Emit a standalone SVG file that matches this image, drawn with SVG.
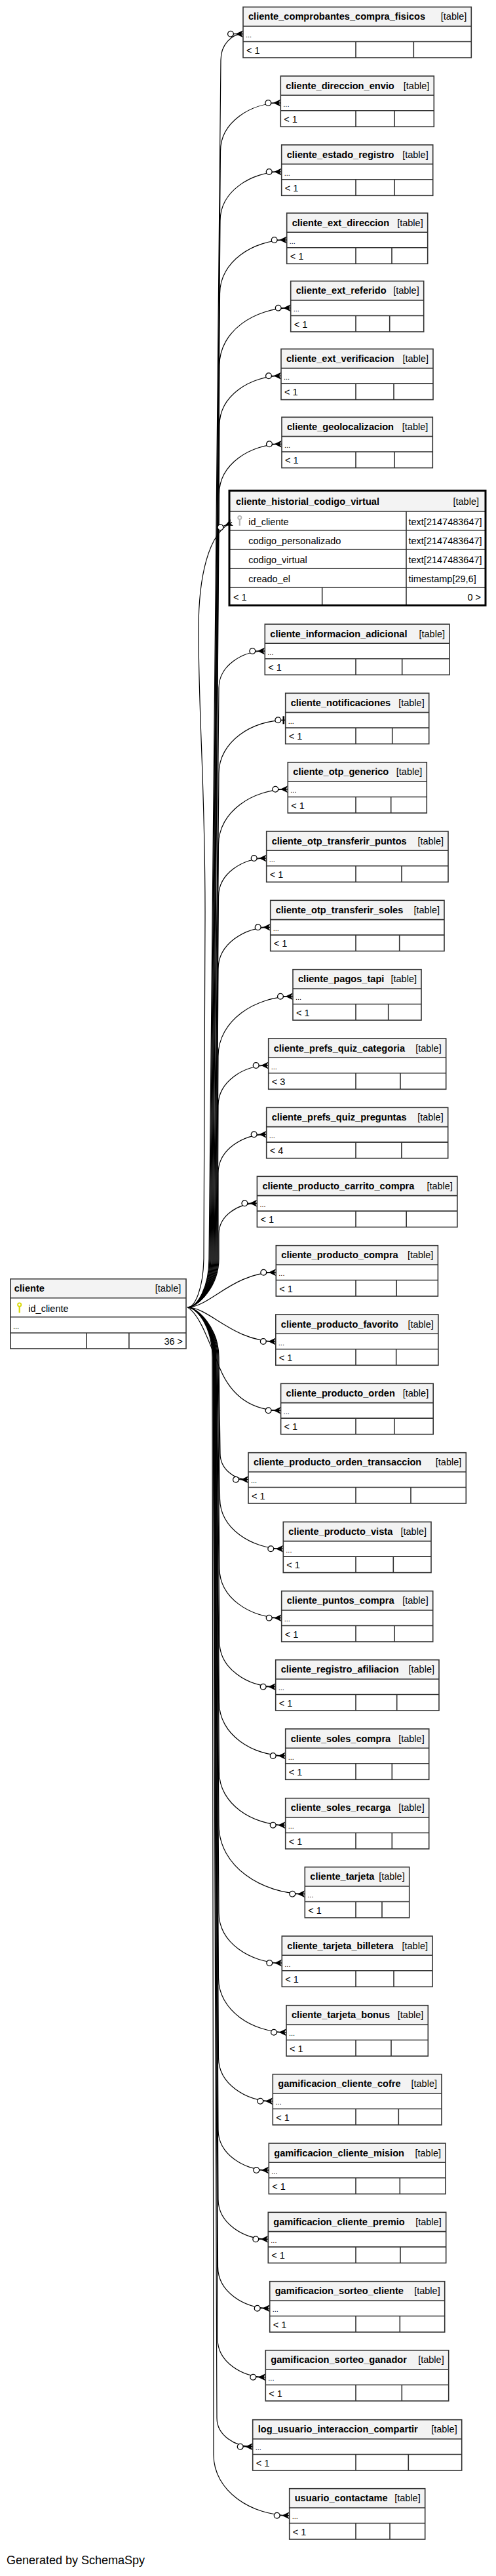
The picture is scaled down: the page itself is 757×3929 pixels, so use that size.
<svg xmlns="http://www.w3.org/2000/svg" width="757" height="3929" viewBox="0 0 757 3929">
<style>
.hd{fill:#f3f3f3}
.bx{fill:none;stroke:#333;stroke-width:1.6}
.ln{fill:none;stroke:#333;stroke-width:1.6}
.t{font-family:"Liberation Sans",Arial,Helvetica,sans-serif;font-size:14.5px;fill:#000}
.b{font-weight:bold;font-size:14.6px}
.e{text-anchor:end}
.s{font-size:11px}
.c{fill:none;stroke:#000;stroke-width:1.2}
.cm{marker-end:url(#mc)}
.co{marker-end:url(#mo)}
</style>
<defs>
<marker id="mc" markerUnits="userSpaceOnUse" markerWidth="28" markerHeight="16" viewBox="-25 -8 28 16" refX="0" refY="0" orient="auto" overflow="visible">
<path d="M-14.6,0H0" stroke="#000" stroke-width="1.2"/>
<path d="M0,-5.5L-11.5,0L0,5.5L-3,0Z" fill="#000"/>
<circle cx="-19" cy="0" r="4.4" fill="#fff" stroke="#000" stroke-width="1.3"/>
</marker>
<marker id="mo" markerUnits="userSpaceOnUse" markerWidth="28" markerHeight="16" viewBox="-25 -8 28 16" refX="0" refY="0" orient="auto" overflow="visible">
<path d="M-7,0H0" stroke="#000" stroke-width="1.2"/>
<rect x="-4.2" y="-6" width="2.6" height="12" fill="#000"/>
<circle cx="-11.4" cy="0" r="4.4" fill="#fff" stroke="#000" stroke-width="1.3"/>
</marker>
</defs>
<rect width="757" height="3929" fill="#fff"/>

<g id="connectors">
<path class="c cm" d="M286,1994C302,1994 319,1962 319,1920L337,91.7C337,67.7 354,51.7 371,51.7"/>
<path class="c cm" d="M286,1994C302,1994 320,1962 320,1920L336.5,230.4C336.5,186.4 382.4,157 428.3,157"/>
<path class="c cm" d="M286,1994C302,1994 321,1962 321,1920L336,337C336,292 382.9,262 429.7,262"/>
<path class="c cm" d="M286,1994C302,1994 322,1962 322,1920L335.5,447.8C335.5,398.7 386.6,366 437.7,366"/>
<path class="c cm" d="M286,1994C302,1994 323,1962 323,1920L335,556.7C335,504.5 389.4,469.7 443.7,469.7"/>
<path class="c cm" d="M286,1994C302,1994 324,1962 324,1920L335,648.5C335,603.4 382,573.3 429,573.3"/>
<path class="c cm" d="M286,1994C302,1994 325,1962 325,1920L334.5,753.7C334.5,707.9 382.3,677.3 430,677.3"/>
<path class="c cm" d="M286,1994C298,1994 310,1965 311,1920L313,1400C313.5,1200 303,1100 303,960C303,880 318,812 354,797"/>
<path class="c cm" d="M286,1994C302,1994 326,1962 326,1920L334,1049.2C334,1015.5 369.2,993 404.3,993"/>
<path class="c co" d="M286,1994C302,1994 327,1962 327,1920L334,1179.7C334,1130.9 384.9,1098.3 435.7,1098.3"/>
<path class="c cm" d="M286,1994C302,1994 328,1962 328,1920L333.5,1288.3C333.5,1237.5 386.4,1203.7 439.3,1203.7"/>
<path class="c cm" d="M286,1994C302,1994 329,1962 329,1920L333.5,1367.6C333.5,1332.4 370.1,1309 406.7,1309"/>
<path class="c cm" d="M286,1994C302,1994 330,1962 330,1920L333,1478.1C333,1439.8 372.9,1414.3 412.7,1414.3"/>
<path class="c cm" d="M286,1994C302,1994 331,1962 331,1920L333,1610.9C333,1556.2 390,1519.7 447,1519.7"/>
<path class="c cm" d="M286,1994C302,1994 332,1962 332,1920L333,1686.4C333,1649.6 371.4,1625 409.7,1625"/>
<path class="c cm" d="M286,1994C302,1994 333,1962 333,1920L333,1789.3C333,1753.9 369.9,1730.3 406.7,1730.3"/>
<path class="c cm" d="M286,1994C302,1994 334,1962 334,1920L334,1882C334,1854 363.2,1835.3 392.4,1835.3"/>
<path class="c cm" d="M286,1994C320,1994 355,1940.7 421.3,1940.7"/>
<path class="c cm" d="M286,1994C320,1994 355,2046 420.8,2046"/>
<path class="c cm" d="M286,1994C305,2004 320,2050 336,2088C352,2126 380,2151.3 428.6,2151.3"/>
<path class="c cm" d="M286,1994C302,1994 334,2026 334,2070L336,2216.7C336,2240.7 357.5,2256.7 379,2256.7"/>
<path class="c cm" d="M286,1994C302,1994 333,2026 333,2070L335.5,2284.9C335.5,2331.3 383.9,2362.3 432.3,2362.3"/>
<path class="c cm" d="M286,1994C302,1994 332,2026 332,2070L335,2391.9C335,2437.4 382.4,2467.7 429.7,2467.7"/>
<path class="c cm" d="M286,1994C302,1994 331,2026 331,2070L335,2504.1C335,2545.3 377.9,2572.7 420.7,2572.7"/>
<path class="c cm" d="M286,1994C302,1994 330,2026 330,2070L334.5,2597C334.5,2645.6 385.1,2678 435.7,2678"/>
<path class="c cm" d="M286,1994C302,1994 329.5,2026 329.5,2070L334.5,2702.7C334.5,2751.3 385.1,2783.7 435.7,2783.7"/>
<path class="c cm" d="M286,1994C302,1994 329,2026 329,2070L334,2783.7C334,2846.7 399.7,2888.7 465.3,2888.7"/>
<path class="c cm" d="M286,1994C302,1994 328.5,2026 328.5,2070L334,2917C334,2963.2 382.2,2994 430.3,2994"/>
<path class="c cm" d="M286,1994C302,1994 328,2026 328,2070L333.5,3016.9C333.5,3066.6 385.3,3099.7 437,3099.7"/>
<path class="c cm" d="M286,1994C302,1994 327.5,2026 327.5,2070L333.5,3138.5C333.5,3178.2 374.9,3204.7 416.3,3204.7"/>
<path class="c cm" d="M286,1994C302,1994 327,2026 327,2070L333,3248.2C333,3285.3 371.7,3310 410.3,3310"/>
<path class="c cm" d="M286,1994C302,1994 326.5,2026 326.5,2070L333,3354.3C333,3390.9 371.2,3415.3 409.3,3415.3"/>
<path class="c cm" d="M286,1994C302,1994 326,2026 326,2070L332.5,3457.3C332.5,3495.3 372.1,3520.7 411.7,3520.7"/>
<path class="c cm" d="M286,1994C302,1994 325.5,2026 325.5,2070L332,3567.1C332,3602.3 368.7,3625.7 405.3,3625.7"/>
<path class="c cm" d="M286,1994C302,1994 325,2026 325,2070L331,3687.9C331,3714.2 358.4,3731.7 385.7,3731.7"/>
<path class="c cm" d="M286,1994C302,1994 324,2026 324,2070L326,3744.1C326,3799.7 383.9,3836.7 441.7,3836.7"/>
</g>

<g id="cliente">
<rect class="hd" x="15.9" y="1950.7" width="268.1" height="29"/>
<path class="ln" d="M15.9,1979.7H284M15.9,2008.7H284M15.9,2033H284M131.8,2033V2057M196.9,2033V2057"/>
<rect class="bx" x="15.9" y="1950.7" width="268.1" height="106.3"/>
<text class="t b" x="21.7" y="1970">cliente</text>
<text class="t e" x="276.3" y="1970">[table]</text>
<circle cx="29.7" cy="1990" r="2.6" fill="none" stroke="#d8d800" stroke-width="1.8"/>
<path d="M29.7,1992.5V2002.3" stroke="#d8d800" stroke-width="2.2"/>
<text class="t" x="43.3" y="2000.5">id_cliente</text>
<text class="t s" x="20" y="2027">...</text>
<text class="t e" x="279" y="2051">36 &gt;</text>
</g>

<g id="cliente_historial_codigo_virtual">
<rect class="hd" x="350" y="748.3" width="391" height="31.7"/>
<path class="ln" d="M350,780H741M350,808.7H741M350,838H741M350,867.3H741M350,896H741M620,780V923.3M491.7,896V923.3"/>
<rect x="350" y="748.3" width="391" height="175" fill="none" stroke="#000" stroke-width="3"/>
<text class="t b" x="360" y="769.5">cliente_historial_codigo_virtual</text>
<text class="t e" x="731" y="769.5">[table]</text>
<circle cx="365.8" cy="789.5" r="2.6" fill="none" stroke="#b4b4b4" stroke-width="1.8"/>
<path d="M365.8,792V801.7" stroke="#b4b4b4" stroke-width="2.2"/>
<text class="t" x="379.3" y="801">id_cliente</text>
<text class="t" x="379.3" y="829.8">codigo_personalizado</text>
<text class="t" x="379.3" y="859.2">codigo_virtual</text>
<text class="t" x="379.3" y="888.4">creado_el</text>
<text class="t" x="623.5" y="801">text[2147483647]</text>
<text class="t" x="623.5" y="829.8">text[2147483647]</text>
<text class="t" x="623.5" y="859.2">text[2147483647]</text>
<text class="t" x="623.5" y="888.4">timestamp[29,6]</text>
<text class="t" x="356" y="915.5">&lt; 1</text>
<text class="t e" x="734" y="915.5">0 &gt;</text>
</g>

<g id="cliente_comprobantes_compra_fisicos">
<rect class="hd" x="371" y="10.7" width="348.3" height="29.3"/>
<path class="ln" d="M371,40H719.3M371,63.5H719.3M543,63.5V88M631.3,63.5V88"/>
<rect class="bx" x="371" y="10.7" width="348.3" height="77.3"/>
<text class="t b" x="379" y="30.2">cliente_comprobantes_compra_fisicos</text>
<text class="t e" x="712.3" y="30.2">[table]</text>
<text class="t s" x="375" y="57.2">...</text>
<text class="t" x="376" y="81.7">&lt; 1</text>
</g>

<g id="cliente_direccion_envio">
<rect class="hd" x="428.3" y="116" width="234" height="29.3"/>
<path class="ln" d="M428.3,145.3H662.3M428.3,168.8H662.3M543,168.8V193.3M602,168.8V193.3"/>
<rect class="bx" x="428.3" y="116" width="234" height="77.3"/>
<text class="t b" x="436.3" y="135.5">cliente_direccion_envio</text>
<text class="t e" x="655.3" y="135.5">[table]</text>
<text class="t s" x="432.3" y="162.5">...</text>
<text class="t" x="433.3" y="187">&lt; 1</text>
</g>

<g id="cliente_estado_registro">
<rect class="hd" x="429.7" y="221" width="231" height="29.3"/>
<path class="ln" d="M429.7,250.3H660.7M429.7,273.8H660.7M543,273.8V298.3M602,273.8V298.3"/>
<rect class="bx" x="429.7" y="221" width="231" height="77.3"/>
<text class="t b" x="437.7" y="240.5">cliente_estado_registro</text>
<text class="t e" x="653.7" y="240.5">[table]</text>
<text class="t s" x="433.7" y="267.5">...</text>
<text class="t" x="434.7" y="292">&lt; 1</text>
</g>

<g id="cliente_ext_direccion">
<rect class="hd" x="437.7" y="325" width="215" height="29.3"/>
<path class="ln" d="M437.7,354.3H652.7M437.7,377.8H652.7M543,377.8V402.3M598,377.8V402.3"/>
<rect class="bx" x="437.7" y="325" width="215" height="77.3"/>
<text class="t b" x="445.7" y="344.5">cliente_ext_direccion</text>
<text class="t e" x="645.7" y="344.5">[table]</text>
<text class="t s" x="441.7" y="371.5">...</text>
<text class="t" x="442.7" y="396">&lt; 1</text>
</g>

<g id="cliente_ext_referido">
<rect class="hd" x="443.7" y="428.7" width="203" height="29.3"/>
<path class="ln" d="M443.7,458H646.7M443.7,481.5H646.7M543,481.5V506M594.7,481.5V506"/>
<rect class="bx" x="443.7" y="428.7" width="203" height="77.3"/>
<text class="t b" x="451.7" y="448.2">cliente_ext_referido</text>
<text class="t e" x="639.7" y="448.2">[table]</text>
<text class="t s" x="447.7" y="475.2">...</text>
<text class="t" x="448.7" y="499.7">&lt; 1</text>
</g>

<g id="cliente_ext_verificacion">
<rect class="hd" x="429" y="532.3" width="232" height="29.3"/>
<path class="ln" d="M429,561.6H661M429,585.1H661M543,585.1V609.6M601,585.1V609.6"/>
<rect class="bx" x="429" y="532.3" width="232" height="77.3"/>
<text class="t b" x="437" y="551.8">cliente_ext_verificacion</text>
<text class="t e" x="654" y="551.8">[table]</text>
<text class="t s" x="433" y="578.8">...</text>
<text class="t" x="434" y="603.3">&lt; 1</text>
</g>

<g id="cliente_geolocalizacion">
<rect class="hd" x="430" y="636.3" width="230.3" height="29.3"/>
<path class="ln" d="M430,665.6H660.3M430,689.1H660.3M543,689.1V713.6M602,689.1V713.6"/>
<rect class="bx" x="430" y="636.3" width="230.3" height="77.3"/>
<text class="t b" x="438" y="655.8">cliente_geolocalizacion</text>
<text class="t e" x="653.3" y="655.8">[table]</text>
<text class="t s" x="434" y="682.8">...</text>
<text class="t" x="435" y="707.3">&lt; 1</text>
</g>

<g id="cliente_informacion_adicional">
<rect class="hd" x="404.3" y="952" width="281.7" height="29.3"/>
<path class="ln" d="M404.3,981.3H686M404.3,1004.8H686M543,1004.8V1029.3M613.7,1004.8V1029.3"/>
<rect class="bx" x="404.3" y="952" width="281.7" height="77.3"/>
<text class="t b" x="412.3" y="971.5">cliente_informacion_adicional</text>
<text class="t e" x="679" y="971.5">[table]</text>
<text class="t s" x="408.3" y="998.5">...</text>
<text class="t" x="409.3" y="1023">&lt; 1</text>
</g>

<g id="cliente_notificaciones">
<rect class="hd" x="435.7" y="1057.3" width="219" height="29.3"/>
<path class="ln" d="M435.7,1086.6H654.7M435.7,1110.1H654.7M543,1110.1V1134.6M598.7,1110.1V1134.6"/>
<rect class="bx" x="435.7" y="1057.3" width="219" height="77.3"/>
<text class="t b" x="443.7" y="1076.8">cliente_notificaciones</text>
<text class="t e" x="647.7" y="1076.8">[table]</text>
<text class="t s" x="439.7" y="1103.8">...</text>
<text class="t" x="440.7" y="1128.3">&lt; 1</text>
</g>

<g id="cliente_otp_generico">
<rect class="hd" x="439.3" y="1162.7" width="212" height="29.3"/>
<path class="ln" d="M439.3,1192H651.3M439.3,1215.5H651.3M543,1215.5V1240M596.7,1215.5V1240"/>
<rect class="bx" x="439.3" y="1162.7" width="212" height="77.3"/>
<text class="t b" x="447.3" y="1182.2">cliente_otp_generico</text>
<text class="t e" x="644.3" y="1182.2">[table]</text>
<text class="t s" x="443.3" y="1209.2">...</text>
<text class="t" x="444.3" y="1233.7">&lt; 1</text>
</g>

<g id="cliente_otp_transferir_puntos">
<rect class="hd" x="406.7" y="1268" width="277.3" height="29.3"/>
<path class="ln" d="M406.7,1297.3H684M406.7,1320.8H684M543,1320.8V1345.3M613,1320.8V1345.3"/>
<rect class="bx" x="406.7" y="1268" width="277.3" height="77.3"/>
<text class="t b" x="414.7" y="1287.5">cliente_otp_transferir_puntos</text>
<text class="t e" x="677" y="1287.5">[table]</text>
<text class="t s" x="410.7" y="1314.5">...</text>
<text class="t" x="411.7" y="1339">&lt; 1</text>
</g>

<g id="cliente_otp_transferir_soles">
<rect class="hd" x="412.7" y="1373.3" width="265.3" height="29.3"/>
<path class="ln" d="M412.7,1402.6H678M412.7,1426.1H678M543,1426.1V1450.6M609.7,1426.1V1450.6"/>
<rect class="bx" x="412.7" y="1373.3" width="265.3" height="77.3"/>
<text class="t b" x="420.7" y="1392.8">cliente_otp_transferir_soles</text>
<text class="t e" x="671" y="1392.8">[table]</text>
<text class="t s" x="416.7" y="1419.8">...</text>
<text class="t" x="417.7" y="1444.3">&lt; 1</text>
</g>

<g id="cliente_pagos_tapi">
<rect class="hd" x="447" y="1478.7" width="196" height="29.3"/>
<path class="ln" d="M447,1508H643M447,1531.5H643M543,1531.5V1556M592.7,1531.5V1556"/>
<rect class="bx" x="447" y="1478.7" width="196" height="77.3"/>
<text class="t b" x="455" y="1498.2">cliente_pagos_tapi</text>
<text class="t e" x="636" y="1498.2">[table]</text>
<text class="t s" x="451" y="1525.2">...</text>
<text class="t" x="452" y="1549.7">&lt; 1</text>
</g>

<g id="cliente_prefs_quiz_categoria">
<rect class="hd" x="409.7" y="1584" width="271" height="29.3"/>
<path class="ln" d="M409.7,1613.3H680.7M409.7,1636.8H680.7M543,1636.8V1661.3M611,1636.8V1661.3"/>
<rect class="bx" x="409.7" y="1584" width="271" height="77.3"/>
<text class="t b" x="417.7" y="1603.5">cliente_prefs_quiz_categoria</text>
<text class="t e" x="673.7" y="1603.5">[table]</text>
<text class="t s" x="413.7" y="1630.5">...</text>
<text class="t" x="414.7" y="1655">&lt; 3</text>
</g>

<g id="cliente_prefs_quiz_preguntas">
<rect class="hd" x="406.7" y="1689.3" width="277" height="29.3"/>
<path class="ln" d="M406.7,1718.6H683.7M406.7,1742.1H683.7M543,1742.1V1766.6M612.9,1742.1V1766.6"/>
<rect class="bx" x="406.7" y="1689.3" width="277" height="77.3"/>
<text class="t b" x="414.7" y="1708.8">cliente_prefs_quiz_preguntas</text>
<text class="t e" x="676.7" y="1708.8">[table]</text>
<text class="t s" x="410.7" y="1735.8">...</text>
<text class="t" x="411.7" y="1760.3">&lt; 4</text>
</g>

<g id="cliente_producto_carrito_compra">
<rect class="hd" x="392.4" y="1794.3" width="305.5" height="29.3"/>
<path class="ln" d="M392.4,1823.6H697.9M392.4,1847.1H697.9M543,1847.1V1871.6M620.2,1847.1V1871.6"/>
<rect class="bx" x="392.4" y="1794.3" width="305.5" height="77.3"/>
<text class="t b" x="400.4" y="1813.8">cliente_producto_carrito_compra</text>
<text class="t e" x="690.9" y="1813.8">[table]</text>
<text class="t s" x="396.4" y="1840.8">...</text>
<text class="t" x="397.4" y="1865.3">&lt; 1</text>
</g>

<g id="cliente_producto_compra">
<rect class="hd" x="421.3" y="1899.7" width="247.1" height="29.3"/>
<path class="ln" d="M421.3,1929H668.4M421.3,1952.5H668.4M543,1952.5V1977M605.2,1952.5V1977"/>
<rect class="bx" x="421.3" y="1899.7" width="247.1" height="77.3"/>
<text class="t b" x="429.3" y="1919.2">cliente_producto_compra</text>
<text class="t e" x="661.4" y="1919.2">[table]</text>
<text class="t s" x="425.3" y="1946.2">...</text>
<text class="t" x="426.3" y="1970.7">&lt; 1</text>
</g>

<g id="cliente_producto_favorito">
<rect class="hd" x="420.8" y="2005" width="248.1" height="29.3"/>
<path class="ln" d="M420.8,2034.3H668.9M420.8,2057.8H668.9M543,2057.8V2082.3M604.7,2057.8V2082.3"/>
<rect class="bx" x="420.8" y="2005" width="248.1" height="77.3"/>
<text class="t b" x="428.8" y="2024.5">cliente_producto_favorito</text>
<text class="t e" x="661.9" y="2024.5">[table]</text>
<text class="t s" x="424.8" y="2051.5">...</text>
<text class="t" x="425.8" y="2076">&lt; 1</text>
</g>

<g id="cliente_producto_orden">
<rect class="hd" x="428.6" y="2110.3" width="232.6" height="29.3"/>
<path class="ln" d="M428.6,2139.6H661.2M428.6,2163.1H661.2M543,2163.1V2187.6M601.8,2163.1V2187.6"/>
<rect class="bx" x="428.6" y="2110.3" width="232.6" height="77.3"/>
<text class="t b" x="436.6" y="2129.8">cliente_producto_orden</text>
<text class="t e" x="654.2" y="2129.8">[table]</text>
<text class="t s" x="432.6" y="2156.8">...</text>
<text class="t" x="433.6" y="2181.3">&lt; 1</text>
</g>

<g id="cliente_producto_orden_transaccion">
<rect class="hd" x="379" y="2215.7" width="332.3" height="29.3"/>
<path class="ln" d="M379,2245H711.3M379,2268.5H711.3M543,2268.5V2293M627,2268.5V2293"/>
<rect class="bx" x="379" y="2215.7" width="332.3" height="77.3"/>
<text class="t b" x="387" y="2235.2">cliente_producto_orden_transaccion</text>
<text class="t e" x="704.3" y="2235.2">[table]</text>
<text class="t s" x="383" y="2262.2">...</text>
<text class="t" x="384" y="2286.7">&lt; 1</text>
</g>

<g id="cliente_producto_vista">
<rect class="hd" x="432.3" y="2321.3" width="225.7" height="29.3"/>
<path class="ln" d="M432.3,2350.6H658M432.3,2374.1H658M543,2374.1V2398.6M600.3,2374.1V2398.6"/>
<rect class="bx" x="432.3" y="2321.3" width="225.7" height="77.3"/>
<text class="t b" x="440.3" y="2340.8">cliente_producto_vista</text>
<text class="t e" x="651" y="2340.8">[table]</text>
<text class="t s" x="436.3" y="2367.8">...</text>
<text class="t" x="437.3" y="2392.3">&lt; 1</text>
</g>

<g id="cliente_puntos_compra">
<rect class="hd" x="429.7" y="2426.7" width="231" height="29.3"/>
<path class="ln" d="M429.7,2456H660.7M429.7,2479.5H660.7M543,2479.5V2504M602,2479.5V2504"/>
<rect class="bx" x="429.7" y="2426.7" width="231" height="77.3"/>
<text class="t b" x="437.7" y="2446.2">cliente_puntos_compra</text>
<text class="t e" x="653.7" y="2446.2">[table]</text>
<text class="t s" x="433.7" y="2473.2">...</text>
<text class="t" x="434.7" y="2497.7">&lt; 1</text>
</g>

<g id="cliente_registro_afiliacion">
<rect class="hd" x="420.7" y="2531.7" width="249.3" height="29.3"/>
<path class="ln" d="M420.7,2561H670M420.7,2584.5H670M543,2584.5V2609M605.7,2584.5V2609"/>
<rect class="bx" x="420.7" y="2531.7" width="249.3" height="77.3"/>
<text class="t b" x="428.7" y="2551.2">cliente_registro_afiliacion</text>
<text class="t e" x="663" y="2551.2">[table]</text>
<text class="t s" x="424.7" y="2578.2">...</text>
<text class="t" x="425.7" y="2602.7">&lt; 1</text>
</g>

<g id="cliente_soles_compra">
<rect class="hd" x="435.7" y="2637" width="219" height="29.3"/>
<path class="ln" d="M435.7,2666.3H654.7M435.7,2689.8H654.7M543,2689.8V2714.3M598.3,2689.8V2714.3"/>
<rect class="bx" x="435.7" y="2637" width="219" height="77.3"/>
<text class="t b" x="443.7" y="2656.5">cliente_soles_compra</text>
<text class="t e" x="647.7" y="2656.5">[table]</text>
<text class="t s" x="439.7" y="2683.5">...</text>
<text class="t" x="440.7" y="2708">&lt; 1</text>
</g>

<g id="cliente_soles_recarga">
<rect class="hd" x="435.7" y="2742.7" width="219" height="29.3"/>
<path class="ln" d="M435.7,2772H654.7M435.7,2795.5H654.7M543,2795.5V2820M598.3,2795.5V2820"/>
<rect class="bx" x="435.7" y="2742.7" width="219" height="77.3"/>
<text class="t b" x="443.7" y="2762.2">cliente_soles_recarga</text>
<text class="t e" x="647.7" y="2762.2">[table]</text>
<text class="t s" x="439.7" y="2789.2">...</text>
<text class="t" x="440.7" y="2813.7">&lt; 1</text>
</g>

<g id="cliente_tarjeta">
<rect class="hd" x="465.3" y="2847.7" width="159.4" height="29.3"/>
<path class="ln" d="M465.3,2877H624.7M465.3,2900.5H624.7M543,2900.5V2925M583,2900.5V2925"/>
<rect class="bx" x="465.3" y="2847.7" width="159.4" height="77.3"/>
<text class="t b" x="473.3" y="2867.2">cliente_tarjeta</text>
<text class="t e" x="617.7" y="2867.2">[table]</text>
<text class="t s" x="469.3" y="2894.2">...</text>
<text class="t" x="470.3" y="2918.7">&lt; 1</text>
</g>

<g id="cliente_tarjeta_billetera">
<rect class="hd" x="430.3" y="2953" width="229.7" height="29.3"/>
<path class="ln" d="M430.3,2982.3H660M430.3,3005.8H660M543,3005.8V3030.3M601,3005.8V3030.3"/>
<rect class="bx" x="430.3" y="2953" width="229.7" height="77.3"/>
<text class="t b" x="438.3" y="2972.5">cliente_tarjeta_billetera</text>
<text class="t e" x="653" y="2972.5">[table]</text>
<text class="t s" x="434.3" y="2999.5">...</text>
<text class="t" x="435.3" y="3024">&lt; 1</text>
</g>

<g id="cliente_tarjeta_bonus">
<rect class="hd" x="437" y="3058.7" width="216.3" height="29.3"/>
<path class="ln" d="M437,3088H653.3M437,3111.5H653.3M543,3111.5V3136M597,3111.5V3136"/>
<rect class="bx" x="437" y="3058.7" width="216.3" height="77.3"/>
<text class="t b" x="445" y="3078.2">cliente_tarjeta_bonus</text>
<text class="t e" x="646.3" y="3078.2">[table]</text>
<text class="t s" x="441" y="3105.2">...</text>
<text class="t" x="442" y="3129.7">&lt; 1</text>
</g>

<g id="gamificacion_cliente_cofre">
<rect class="hd" x="416.3" y="3163.7" width="257.7" height="29.3"/>
<path class="ln" d="M416.3,3193H674M416.3,3216.5H674M543,3216.5V3241M608.3,3216.5V3241"/>
<rect class="bx" x="416.3" y="3163.7" width="257.7" height="77.3"/>
<text class="t b" x="424.3" y="3183.2">gamificacion_cliente_cofre</text>
<text class="t e" x="667" y="3183.2">[table]</text>
<text class="t s" x="420.3" y="3210.2">...</text>
<text class="t" x="421.3" y="3234.7">&lt; 1</text>
</g>

<g id="gamificacion_cliente_mision">
<rect class="hd" x="410.3" y="3269" width="269.7" height="29.3"/>
<path class="ln" d="M410.3,3298.3H680M410.3,3321.8H680M543,3321.8V3346.3M610.3,3321.8V3346.3"/>
<rect class="bx" x="410.3" y="3269" width="269.7" height="77.3"/>
<text class="t b" x="418.3" y="3288.5">gamificacion_cliente_mision</text>
<text class="t e" x="673" y="3288.5">[table]</text>
<text class="t s" x="414.3" y="3315.5">...</text>
<text class="t" x="415.3" y="3340">&lt; 1</text>
</g>

<g id="gamificacion_cliente_premio">
<rect class="hd" x="409.3" y="3374.3" width="271.4" height="29.3"/>
<path class="ln" d="M409.3,3403.6H680.7M409.3,3427.1H680.7M543,3427.1V3451.6M611,3427.1V3451.6"/>
<rect class="bx" x="409.3" y="3374.3" width="271.4" height="77.3"/>
<text class="t b" x="417.3" y="3393.8">gamificacion_cliente_premio</text>
<text class="t e" x="673.7" y="3393.8">[table]</text>
<text class="t s" x="413.3" y="3420.8">...</text>
<text class="t" x="414.3" y="3445.3">&lt; 1</text>
</g>

<g id="gamificacion_sorteo_cliente">
<rect class="hd" x="411.7" y="3479.7" width="267" height="29.3"/>
<path class="ln" d="M411.7,3509H678.7M411.7,3532.5H678.7M543,3532.5V3557M610.3,3532.5V3557"/>
<rect class="bx" x="411.7" y="3479.7" width="267" height="77.3"/>
<text class="t b" x="419.7" y="3499.2">gamificacion_sorteo_cliente</text>
<text class="t e" x="671.7" y="3499.2">[table]</text>
<text class="t s" x="415.7" y="3526.2">...</text>
<text class="t" x="416.7" y="3550.7">&lt; 1</text>
</g>

<g id="gamificacion_sorteo_ganador">
<rect class="hd" x="405.3" y="3584.7" width="279.4" height="29.3"/>
<path class="ln" d="M405.3,3614H684.7M405.3,3637.5H684.7M543,3637.5V3662M613.3,3637.5V3662"/>
<rect class="bx" x="405.3" y="3584.7" width="279.4" height="77.3"/>
<text class="t b" x="413.3" y="3604.2">gamificacion_sorteo_ganador</text>
<text class="t e" x="677.7" y="3604.2">[table]</text>
<text class="t s" x="409.3" y="3631.2">...</text>
<text class="t" x="410.3" y="3655.7">&lt; 1</text>
</g>

<g id="log_usuario_interaccion_compartir">
<rect class="hd" x="385.7" y="3690.7" width="319" height="29.3"/>
<path class="ln" d="M385.7,3720H704.7M385.7,3743.5H704.7M543,3743.5V3768M623.3,3743.5V3768"/>
<rect class="bx" x="385.7" y="3690.7" width="319" height="77.3"/>
<text class="t b" x="393.7" y="3710.2">log_usuario_interaccion_compartir</text>
<text class="t e" x="697.7" y="3710.2">[table]</text>
<text class="t s" x="389.7" y="3737.2">...</text>
<text class="t" x="390.7" y="3761.7">&lt; 1</text>
</g>

<g id="usuario_contactame">
<rect class="hd" x="441.7" y="3795.7" width="207" height="29.3"/>
<path class="ln" d="M441.7,3825H648.7M441.7,3848.5H648.7M543,3848.5V3873M595,3848.5V3873"/>
<rect class="bx" x="441.7" y="3795.7" width="207" height="77.3"/>
<text class="t b" x="449.7" y="3815.2">usuario_contactame</text>
<text class="t e" x="641.7" y="3815.2">[table]</text>
<text class="t s" x="445.7" y="3842.2">...</text>
<text class="t" x="446.7" y="3866.7">&lt; 1</text>
</g>

<text class="t" x="10" y="3911" style="font-size:18px">Generated by SchemaSpy</text>
</svg>
